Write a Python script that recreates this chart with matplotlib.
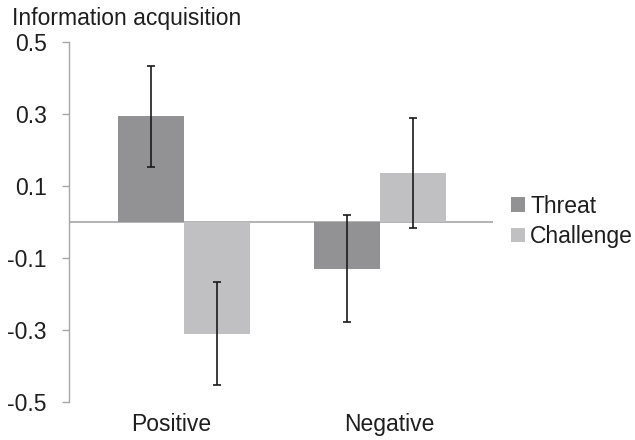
import numpy as np
import matplotlib.pyplot as plt

plt.rcParams['font.family'] = ['Liberation Sans', 'DejaVu Sans']

# Datos
categorias = ['Positive', 'Negative']
threat = [0.294, -0.130]
challenge = [-0.310, 0.136]
threat_err = [0.140, 0.149]
challenge_err = [0.142, 0.153]

col_threat = '#929295'
col_challenge = '#c0c0c2'
gris_eje = '#a6a6a6'
txt = '#1e1e1e'

x = np.arange(len(categorias))
width = 0.337

fig = plt.figure(figsize=(6.35, 4.4), dpi=100)
ax = fig.add_axes([0.1087, 0.0864, 0.776 - 0.1087, 0.9045 - 0.0864])

b1 = ax.bar(x - width / 2, threat, width, color=col_threat, label='Threat', zorder=2)
b2 = ax.bar(x + width / 2, challenge, width, color=col_challenge, label='Challenge', zorder=2)
ax.errorbar(x - width / 2, threat, yerr=threat_err, fmt='none', ecolor='#1a1a1a',
            elinewidth=1.2, capsize=3, capthick=1.2, zorder=3)
ax.errorbar(x + width / 2, challenge, yerr=challenge_err, fmt='none', ecolor='#1a1a1a',
            elinewidth=1.2, capsize=3, capthick=1.2, zorder=3)

# linea del cero
ax.axhline(0, color=gris_eje, linewidth=1.2, zorder=1)

ax.set_xlim(-0.587, 1.577)
ax.set_ylim(-0.5, 0.5)
ax.set_yticks([-0.5, -0.3, -0.1, 0.1, 0.3, 0.5])
ax.set_yticklabels(['-0.5', '-0.3', '-0.1', '0.1', '0.3', '0.5'])
ax.set_xticks(x + np.array([-0.066, 0.051]))
ax.set_xticklabels(categorias)

for s in ['top', 'right', 'bottom']:
    ax.spines[s].set_visible(False)
ax.spines['left'].set_color(gris_eje)
ax.spines['left'].set_linewidth(1.0)
ax.tick_params(axis='y', length=5, width=1.0, color=gris_eje, labelsize=16.5,
               labelcolor=txt, pad=11)
ax.tick_params(axis='x', length=0, labelsize=16.5, labelcolor=txt, pad=8)

fig.text(12 / 635, 1 - 18 / 440, 'Information acquisition', fontsize=16.5,
         color=txt, ha='left', va='center')

fig.legend(handles=[b1, b2], loc='center left', bbox_to_anchor=(0.772, 0.497),
           frameon=False, fontsize=16.5, handlelength=0.6, handleheight=0.6,
           handletextpad=0.25, labelspacing=0.33, labelcolor=txt)

fig.savefig('out.png', dpi=100)
